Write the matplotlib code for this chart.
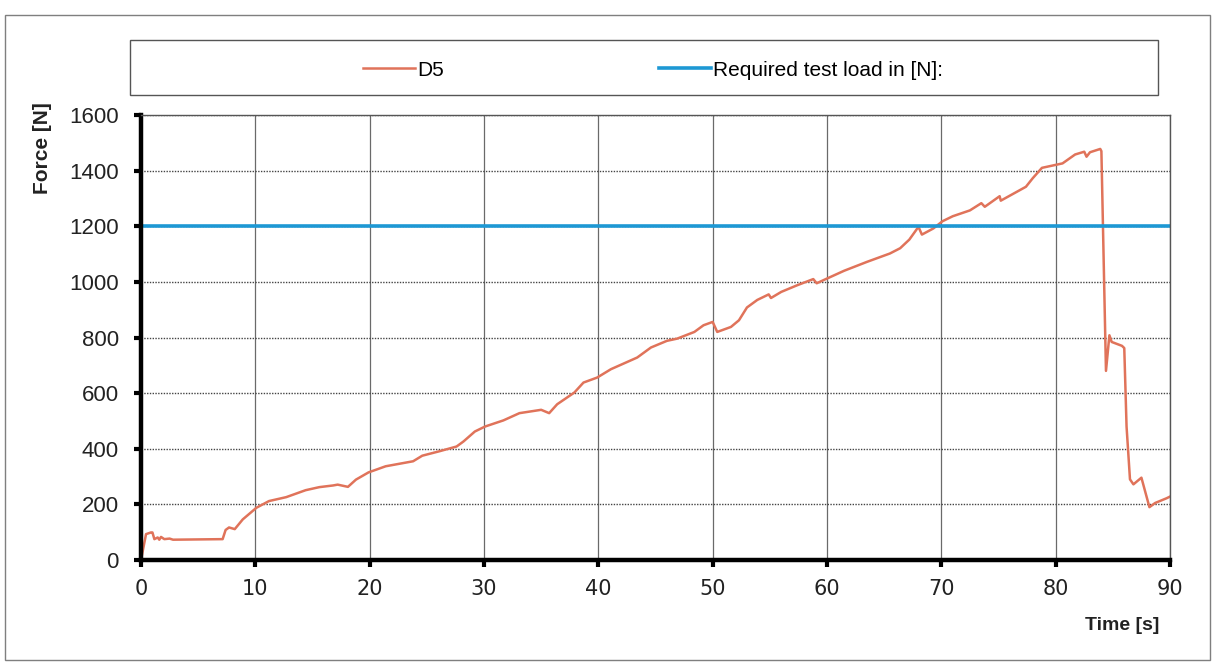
import matplotlib
matplotlib.use("Agg")
import matplotlib.pyplot as plt
from matplotlib.patches import Rectangle

# Force curve of sample D5
time_s = [0, 0.44, 0.87, 1.0, 1.17, 1.46, 1.6, 1.75, 2.04, 2.5, 2.8, 5.0, 7.14,
          7.4, 7.7, 8.2, 8.9, 10.1, 11.2, 12.7, 14.4, 15.6, 16.8, 17.2, 18.1,
          18.8, 19.9, 21.4, 23.8, 24.6, 26.1, 27.6, 28.2, 29.2, 30.1, 31.7,
          33.1, 35.0, 35.7, 36.4, 37.9, 38.7, 39.9, 41.1, 43.4, 44.6, 46.0,
          46.9, 48.4, 49.2, 50.0, 50.4, 51.6, 52.3, 53.0, 53.9, 54.9, 55.1,
          56.0, 57.4, 58.8, 59.1, 60.0, 61.5, 63.5, 65.5, 66.4, 67.2, 68.0,
          68.3, 69.3, 70.1, 71.0, 72.5, 73.5, 73.8, 75.1, 75.2, 77.4, 78.0,
          78.8, 79.7, 80.6, 81.7, 82.5, 82.7, 83.0, 83.9, 84.0, 84.4, 84.7,
          84.9, 85.8, 86.0, 86.2, 86.5, 86.8, 87.5, 88.2, 88.7, 89.7, 90.0]
force_n = [0, 93, 99, 99, 75, 81, 73, 83, 75, 77, 73, 74, 75,
           108, 117, 111, 146, 188, 212, 226, 251, 262, 268, 271, 263,
           289, 315, 337, 355, 375, 391, 408, 426, 462, 480, 502,
           528, 540, 528, 560, 602, 638, 656, 686, 728, 764, 788,
           796, 820, 844, 856, 820, 838, 862, 908, 935, 955, 942,
           964, 988, 1010, 995, 1012, 1040, 1072, 1102, 1121, 1152, 1198,
           1170, 1192, 1218, 1236, 1257, 1283, 1270, 1308, 1292, 1342, 1373,
           1410, 1418, 1426, 1458, 1468, 1450, 1466, 1478, 1470, 680, 808,
           784, 770, 762, 480, 290, 272, 296, 190, 205, 222, 228]

# Required test load (constant)
req_time = [0, 90]
req_load = [1200, 1200]

W, H = 1215, 665
fig = plt.figure(figsize=(W / 100, H / 100), dpi=100)
fig.patch.set_facecolor("white")

# outer frame of the chart area
fig.add_artist(Rectangle((5 / W, 1 - 660 / H), 1205 / W, 645 / H,
                         transform=fig.transFigure, fill=False,
                         edgecolor="#7f7f7f", lw=1.0))
# legend box
fig.add_artist(Rectangle((130 / W, 1 - 95 / H), 1028 / W, 55 / H,
                         transform=fig.transFigure, fill=False,
                         edgecolor="#555555", lw=1.0))

ax = fig.add_axes([141 / W, 1 - 560 / H, 1029 / W, 445 / H])

l1, = ax.plot(time_s, force_n, color="#e0735a", lw=1.8, label="D5")
l2, = ax.plot(req_time, req_load, color="#1d98d4", lw=2.6,
              label="Required test load in [N]:")

ax.set_xlim(0, 90)
ax.set_ylim(0, 1600)
ax.set_xticks(range(0, 91, 10))
ax.set_yticks(range(0, 1601, 200))

# gridlines: solid verticals, dotted horizontals
ax.grid(axis="x", color="#6a6a6a", lw=0.9)
ax.grid(axis="y", color="#444444", lw=1.0, linestyle=(0, (1, 1)))
ax.set_axisbelow(True)

for s in ["top", "right"]:
    ax.spines[s].set_color("#555555")
    ax.spines[s].set_linewidth(1.0)
for s in ["left", "bottom"]:
    ax.spines[s].set_color("black")
    ax.spines[s].set_linewidth(3.2)

ax.tick_params(axis="both", direction="out", length=5, width=3, color="black")
ax.tick_params(axis="x", labelsize=15, pad=9, labelcolor="#222222")
ax.tick_params(axis="y", labelsize=16, pad=11, labelcolor="#222222")
for lab in ax.get_yticklabels():
    lab.set_fontfamily("Liberation Sans")
for lab in ax.get_xticklabels():
    lab.set_fontfamily("DejaVu Sans")

fig.text(43 / W, 1 - 148 / H, "Force [N]", rotation=90, ha="center",
         va="center", fontsize=15, fontweight="bold",
         family="Liberation Sans", color="#222222")
fig.text(1159 / W, 1 - 625 / H, "Time [s]", ha="right", va="center",
         fontsize=14, fontweight="bold", family="Liberation Sans",
         color="#222222")

fig.legend(handles=[l1, l2], loc="center", ncol=2,
           bbox_to_anchor=(653 / W, 1 - 70 / H), frameon=False,
           prop={"family": "Liberation Sans", "size": 15},
           handlelength=2.5, handletextpad=0.1, columnspacing=10.3)

fig.savefig("out.png", dpi=100)
